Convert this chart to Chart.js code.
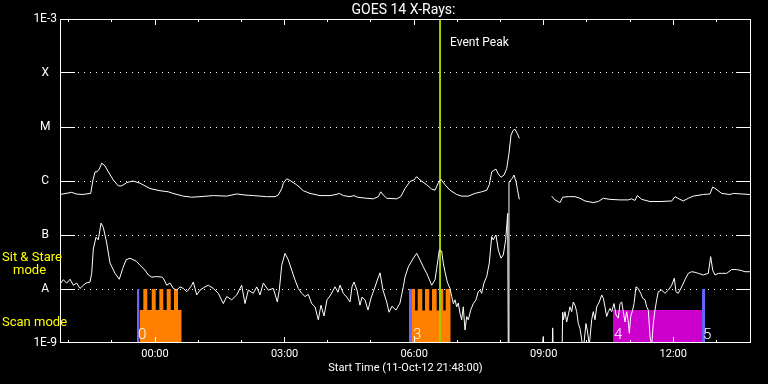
<!DOCTYPE html>
<html>
<head>
<meta charset="utf-8">
<script src="https://cdn.jsdelivr.net/npm/chart.js@4.4.1/dist/chart.umd.min.js"></script>
<style>
  html, body { margin: 0; padding: 0; background: #000; }
  canvas { display: block; }
</style>
</head>
<body>
<canvas id="c" width="768" height="384"></canvas>
<script>
// ---- Data (time in hours from 00:00 UT 12-Oct-12; flux given as log10 W/m^2) ----
const longHours = [-2.200,-2.061,-1.929,-1.829,-1.690,-1.489,-1.436,-1.389,-1.343,-1.290,-1.234,-1.158,-1.081,-0.966,-0.850,-0.771,-0.655,-0.516,-0.347,-0.116,0.116,0.308,0.417,0.655,0.850,1.042,1.350,1.660,1.892,2.084,2.276,2.586,2.778,2.855,2.934,2.971,3.049,3.126,3.281,3.434,3.589,3.820,4.052,4.191,4.267,4.360,4.515,4.608,4.684,4.902,5.054,5.170,5.226,5.286,5.365,5.596,5.689,5.788,5.904,5.997,6.059,6.136,6.291,6.407,6.483,6.559,6.622,6.714,6.830,6.985,7.101,7.254,7.409,7.564,7.680,7.740,7.796,7.833,7.895,7.949,8.011,8.081,8.143,8.196,8.243,8.296,8.335,8.389,8.435,8.800,9.185,9.261,9.377,9.440,9.569,9.724,9.840,9.956,10.148,10.264,10.380,10.535,10.766,10.959,11.037,11.114,11.167,11.269,11.461,11.693,11.964,12.040,12.156,12.232,12.348,12.464,12.695,12.850,12.913,12.989,13.121,13.313,13.390,13.584,13.776];
const longLog = [-6.25,-6.23,-6.21,-6.24,-6.25,-6.23,-5.98,-5.83,-5.83,-5.78,-5.67,-5.72,-5.83,-5.98,-6.09,-6.09,-6.03,-6.00,-6.04,-6.14,-6.18,-6.20,-6.23,-6.28,-6.30,-6.29,-6.27,-6.28,-6.24,-6.26,-6.27,-6.29,-6.29,-6.26,-6.14,-6.04,-5.96,-5.99,-6.07,-6.18,-6.23,-6.27,-6.27,-6.25,-6.23,-6.27,-6.29,-6.27,-6.30,-6.32,-6.33,-6.29,-6.20,-6.26,-6.32,-6.33,-6.29,-6.14,-6.01,-5.98,-5.92,-5.98,-6.07,-6.15,-6.17,-6.04,-5.97,-6.07,-6.17,-6.25,-6.28,-6.28,-6.23,-6.20,-6.17,-6.07,-5.83,-5.81,-5.78,-5.87,-5.93,-5.89,-5.77,-5.49,-5.15,-5.06,-5.04,-5.12,-5.21,null,-6.28,-6.35,-6.40,-6.30,-6.29,-6.29,-6.32,-6.37,-6.40,-6.38,-6.32,-6.34,-6.35,-6.35,-6.33,-6.36,-6.27,-6.34,-6.38,-6.38,-6.37,-6.29,-6.34,-6.37,-6.32,-6.28,-6.25,-6.24,-6.11,-6.15,-6.23,-6.25,-6.23,-6.24,-6.25];

const shortHours = [-2.183,-2.123,-2.044,-1.968,-1.892,-1.813,-1.737,-1.660,-1.598,-1.505,
-1.466,-1.429,-1.366,-1.313,-1.250,-1.197,-1.118,-1.042,-0.926,-0.827,
-0.748,-0.671,-0.579,-0.424,-0.347,-0.232,-0.155,-0.076,0.039,0.155,
0.192,0.271,0.347,0.424,0.502,0.579,0.655,0.734,0.771,0.850,
0.887,0.966,1.042,1.158,1.234,1.350,1.466,1.581,1.660,1.776,
1.892,2.007,2.084,2.160,2.276,2.355,2.431,2.508,2.623,2.739,
2.832,2.878,2.934,3.010,3.086,3.165,3.241,3.318,3.397,3.473,
3.549,3.628,3.705,3.781,3.843,3.913,3.982,4.052,4.168,4.237,
4.283,4.360,4.439,4.515,4.561,4.608,4.677,4.746,4.793,4.862,
4.932,5.001,5.094,5.163,5.210,5.279,5.365,5.418,5.487,5.580,
5.673,5.749,5.788,5.865,5.981,6.059,6.136,6.212,6.291,6.407,
6.483,6.522,6.583,6.638,6.675,6.714,6.768,6.830,6.870,6.907,
6.946,6.985,7.022,7.062,7.101,7.138,7.178,7.217,7.254,7.310,
7.370,7.432,7.485,7.525,7.564,7.617,7.680,7.740,7.796,7.833,
7.895,7.949,8.011,8.064,8.120,8.166,8.180,8.196,8.273,8.312,
8.358,8.389,8.435,8.700,
8.937,8.991,9.007,9.192,9.208,9.227,9.423,9.440,9.458,9.493,
9.532,9.569,9.609,9.648,9.685,9.724,9.764,9.801,9.840,9.880,
9.917,9.979,10.009,10.056,10.111,10.148,10.188,10.227,10.287,10.343,
10.380,10.419,10.458,10.496,10.535,10.574,10.628,10.674,10.727,10.766,
10.806,10.843,10.882,10.921,10.959,10.982,11.014,11.060,11.091,11.137,
11.190,11.246,11.292,11.345,11.385,11.422,11.461,11.500,11.538,11.577,
11.616,11.653,11.732,11.808,11.885,11.964,12.024,12.063,12.116,12.195,
12.271,12.348,12.426,12.503,12.579,12.695,12.811,12.866,12.913,12.966,
13.043,13.121,13.237,13.353,13.469,13.584,13.661,13.776];
const shortLog = [-7.89,-7.83,-7.89,-7.82,-7.93,-7.89,-7.99,-7.93,-7.89,-7.87,
-7.71,-7.26,-7.04,-7.09,-6.78,-6.86,-7.15,-7.52,-7.71,-7.82,
-7.62,-7.46,-7.43,-7.49,-7.56,-7.65,-7.74,-7.78,-7.77,-7.78,
-7.80,-7.93,-7.89,-7.99,-8.02,-7.96,-7.99,-8.05,-8.02,-7.93,
-7.87,-8.11,-8.02,-7.96,-7.93,-7.99,-8.08,-8.27,-8.14,-8.20,
-8.11,-7.93,-8.27,-8.02,-8.08,-7.96,-8.11,-7.89,-8.02,-7.99,
-8.24,-8.02,-7.56,-7.34,-7.46,-7.65,-7.83,-7.99,-8.08,-8.14,
-8.10,-8.27,-8.33,-8.57,-8.30,-8.50,-8.20,-8.13,-7.96,-8.06,
-7.93,-8.08,-8.15,-8.24,-7.96,-7.87,-8.02,-8.30,-8.15,-8.20,
-8.39,-8.17,-7.96,-7.80,-7.70,-8.02,-8.24,-8.43,-8.32,-8.39,
-8.26,-7.96,-7.78,-7.59,-7.43,-7.34,-7.46,-7.59,-7.71,-7.93,
-7.83,-7.62,-7.28,-7.30,-7.52,-7.68,-7.87,-7.99,-8.14,-8.27,
-8.20,-8.33,-8.26,-8.45,-8.57,-8.33,-8.76,-8.51,-8.57,-8.39,
-8.27,-8.20,-8.05,-8.02,-8.08,-7.89,-7.77,-7.52,-7.03,-7.09,
-7.00,-7.28,-7.43,-7.37,-7.09,-6.60,-9.30,-6.02,-5.95,-5.89,
-6.01,-6.14,-6.34,null,
-9.30,-8.88,-9.30,-9.30,-8.72,-9.30,-9.30,-8.43,-8.57,-8.42,
-8.61,-8.48,-8.33,-8.42,-8.24,-8.30,-8.42,-8.64,-8.73,-8.94,
-9.13,-8.64,-8.76,-9.04,-8.57,-8.42,-8.57,-8.33,-8.24,-8.11,
-8.17,-8.33,-8.51,-8.42,-8.36,-8.42,-8.27,-8.48,-8.54,-8.27,
-8.24,-8.42,-8.61,-8.42,-8.61,-8.82,-8.51,-8.39,-8.27,-7.96,
-7.99,-8.08,-8.17,-8.20,-8.33,-8.39,-8.88,-9.04,-8.64,-8.39,
-8.20,-8.05,-8.02,-8.08,-8.02,-7.93,-7.80,-8.05,-8.08,-7.96,
-7.83,-7.71,-7.68,-7.69,-7.71,-7.74,-7.71,-7.40,-7.65,-7.74,
-7.71,-7.71,-7.71,-7.64,-7.64,-7.66,-7.68,-7.68];

// Scan-mode intervals (step edges in hours, flux level held until the next edge)
const scan0Hours  = [-0.359,-0.271,-0.178,-0.076,0.016,0.100,0.192,0.271,0.364,0.440,0.533,0.618];
const scan0Levels = [4.1e-9,1e-8,4.1e-9,1e-8,4.1e-9,1e-8,4.1e-9,1e-8,4.1e-9,1e-8,4.1e-9,4.1e-9];
const scan3Hours  = [5.950,6.020,6.082,6.189,6.251,6.351,6.414,6.522,6.583,6.675,6.730,6.847];
const scan3Levels = [1e-8,4e-9,1e-8,4e-9,1e-8,4e-9,1e-8,4e-9,1e-8,4e-9,1e-8,1e-8];
const scan4Hours  = [10.604,12.667];
const scan4Levels = [4.1e-9,4.1e-9];
const markerStartHours = [-0.417, 5.881, 12.667];
const markerEndHours   = [-0.359, 5.950, 12.737];
const markerLevel = 1e-8;
const scanLabels = ['0','3','4','5'];
const scanLabelHours = [-0.417, 5.950, 10.604, 12.667];

const eventPeakHour = 6.60;
const xTickHours = [0, 3, 6, 9, 12];
const yTickValues = [1e-9, 1e-8, 1e-7, 1e-6, 1e-5, 1e-4, 1e-3];
const yTickLabels = ['1E-9', 'A', 'B', 'C', 'M', 'X', '1E-3'];

// ---- Build datasets ----
function toPoints(hours, logs) {
  const n = Math.min(hours.length, logs.length);
  const pts = [];
  for (let i = 0; i < n; i++) pts.push({x: hours[i], y: logs[i] === null ? null : Math.pow(10, logs[i])});
  return pts;
}
function stepPoints(hours, levels) {
  return hours.map((h, i) => ({x: h, y: levels[i]}));
}
const fillDs = (data, color) => ({
  data, stepped: true, fill: 'start', backgroundColor: color,
  borderColor: 'rgba(0,0,0,0)', borderWidth: 0, pointRadius: 0, order: 5
});

const datasets = [
  {data: toPoints(longHours, longLog), borderColor: '#ffffff', borderWidth: 1, pointRadius: 0, spanGaps: false, order: 0},
  {data: toPoints(shortHours, shortLog), borderColor: '#ffffff', borderWidth: 1, pointRadius: 0, spanGaps: false, order: 0},
  {data: [{x: eventPeakHour, y: 1e-9}, {x: eventPeakHour, y: 1e-3}], borderColor: '#a0d000', borderWidth: 2, pointRadius: 0, order: 1},
  fillDs(stepPoints(scan0Hours, scan0Levels), '#ff8000'),
  fillDs(stepPoints(scan3Hours, scan3Levels), '#ff8000'),
  fillDs(stepPoints(scan4Hours, scan4Levels), '#cc00cc'),
];
markerStartHours.forEach((h, i) => {
  datasets.push(fillDs([{x: h, y: markerLevel}, {x: markerEndHours[i], y: markerLevel}], '#6666ff'));
});

const pad2 = n => String(n).padStart(2, '0');
const fmtHour = v => pad2(((Math.round(v) % 24) + 24) % 24) + ':00';

const overlay = {
  id: 'overlay',
  afterDatasetsDraw(chart) {
    const {ctx, chartArea: a, scales: {x, y}} = chart;
    const al = p => Math.round(p - 0.5) + 0.5;
    ctx.save();
    ctx.strokeStyle = '#ffffff';
    ctx.lineWidth = 1;
    // frame
    ctx.strokeRect(a.left + 0.5, a.top + 0.5, a.right - a.left - 1, a.bottom - a.top - 1);
    // y ticks (inward, both sides)
    ctx.beginPath();
    yTickValues.slice(1, -1).forEach(v => {
      const py = al(y.getPixelForValue(v));
      ctx.moveTo(a.left, py); ctx.lineTo(a.left + 15, py);
      ctx.moveTo(a.right - 15, py); ctx.lineTo(a.right, py);
    });
    // x ticks (inward, top and bottom)
    for (let h = Math.ceil(x.min); h <= Math.floor(x.max); h++) {
      const px = al(x.getPixelForValue(h));
      const len = (h % 3 === 0) ? 6 : 3;
      ctx.moveTo(px, a.bottom); ctx.lineTo(px, a.bottom - len);
      ctx.moveTo(px, a.top); ctx.lineTo(px, a.top + len);
    }
    ctx.stroke();

    // texts
    ctx.fillStyle = '#ffffff';
    ctx.textBaseline = 'middle';
    ctx.textAlign = 'center';
    ctx.font = '14px Roboto';
    ctx.fillText('GOES 14 X-Rays:', (a.left + a.right) / 2 - 2, 10);
    ctx.textAlign = 'left';
    ctx.font = '12px Roboto';
    ctx.fillText('Event Peak', x.getPixelForValue(eventPeakHour) + 10, 43);

    ctx.fillStyle = '#ffff00';
    ctx.font = '13px Roboto';
    ctx.fillText('Sit & Stare', 2, 258);
    ctx.fillText('mode', 13, 271);
    ctx.fillText('Scan mode', 2, 323);

    ctx.fillStyle = '#ffffff';
    ctx.font = '300 15px Roboto';
    ctx.textBaseline = 'alphabetic';
    scanLabels.forEach((t, i) => {
      ctx.fillText(t, x.getPixelForValue(scanLabelHours[i]) + 1, 339);
    });
    ctx.restore();
  }
};

Chart.defaults.font.family = 'Roboto';
Chart.defaults.color = '#ffffff';

new Chart(document.getElementById('c'), {
  type: 'line',
  data: {datasets},
  plugins: [overlay],
  options: {
    responsive: false,
    animation: false,
    devicePixelRatio: 1,
    layout: {padding: {top: 19, right: 17, left: 0, bottom: 0}},
    plugins: {legend: {display: false}, tooltip: {enabled: false}, title: {display: false}},
    elements: {line: {tension: 0}},
    scales: {
      x: {
        type: 'linear', min: -2.2, max: 13.8, position: 'bottom',
        afterBuildTicks: s => { s.ticks = xTickHours.map(v => ({value: v})); },
        afterFit: s => { s.height = 41; },
        ticks: {color: '#ffffff', font: {family: 'Roboto', size: 11}, padding: 5, maxRotation: 0, autoSkip: false, callback: v => fmtHour(v)},
        grid: {display: false, drawTicks: false},
        border: {display: false},
        title: {display: true, text: 'Start Time (11-Oct-12 21:48:00)', color: '#ffffff', font: {family: 'Roboto', size: 11}, padding: {top: 0, bottom: 9}}
      },
      y: {
        type: 'logarithmic', min: 1e-9, max: 1e-3, position: 'left',
        afterBuildTicks: s => { s.ticks = yTickValues.map(v => ({value: v})); },
        afterFit: s => { s.width = 60; },
        ticks: {
          color: '#ffffff', font: {family: 'Roboto', size: 12}, padding: 3, crossAlign: 'center',
          callback: v => yTickLabels[Math.round(Math.log10(v)) + 9]
        },
        grid: {
          color: c => (c.index === 0 || c.index === yTickValues.length - 1) ? 'rgba(0,0,0,0)' : '#ffffff',
          lineWidth: 1, drawTicks: false
        },
        border: {display: false, dash: [1, 5]}
      }
    }
  }
});
</script>
</body>
</html>
